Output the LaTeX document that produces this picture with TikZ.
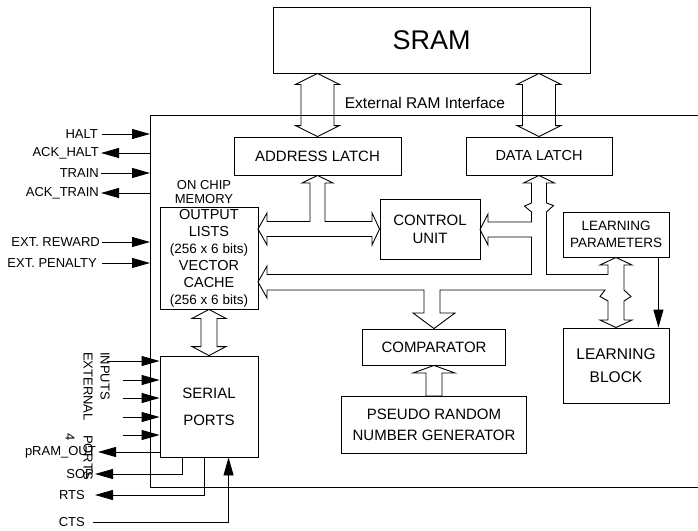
\documentclass[tikz,border=0pt]{standalone}
\usepackage{fontspec}
\setmainfont{Liberation Sans}
\usetikzlibrary{arrows.meta,calc}
\newcommand{\boxfont}{\fontsize{15}{18}\selectfont}
\newcommand{\sigfont}{\fontsize{13}{15}\selectfont}
\newcommand{\bitsfont}{\fontsize{13.5}{17}\selectfont}
\tikzset{
  blk/.style={draw,line width=0.9pt,inner sep=0pt,align=center,font=\boxfont},
  lbl/.style={font=\sigfont,inner sep=2pt},
  sig/.style={line width=0.9pt,-{Triangle[length=18pt,width=10pt]}},
  bus/.style={line width=0.9pt,line join=miter},
}
%% double headed hollow bus between two tips
\newcommand{\dbus}[5]{%
  \draw[bus] (#1) -- ($(#1)+(#4,#5)$) -- ($(#1)+(#3,#5)$) -- ($(#2)+(#3,-#5)$)
    -- ($(#2)+(#4,-#5)$) -- (#2) -- ($(#2)+(-#4,-#5)$) -- ($(#2)+(-#3,-#5)$)
    -- ($(#1)+(-#3,#5)$) -- ($(#1)+(-#4,#5)$) -- cycle;}
\begin{document}
\begin{tikzpicture}[x=1pt,y=-1pt]
  \useasboundingbox (0,0) rectangle (698,530);
  %% Chip outline
  \coordinate (chipNE) at (698,115);
  \coordinate (chipNW) at (150,115);
  \coordinate (chipSW) at (150,487);
  \coordinate (chipSE) at (698,487);
  \draw[line width=0.9pt] (chipNE) -- (chipNW) -- (chipSW) -- (chipSE);
  \node[font=\fontsize{15.5}{18}\selectfont] (extram) at (425,103) {External RAM Interface};
  %% Blocks
  \node[blk,minimum width=317pt,minimum height=66pt,font=\fontsize{27}{30}\selectfont] (sram) at (431.5,40) {SRAM};
  \node[blk,minimum width=167pt,minimum height=38pt] (addr) at (317.5,156) {ADDRESS LATCH};
  \node[blk,minimum width=146pt,minimum height=38pt,font=\fontsize{14.5}{17}\selectfont] (data) at (539,156) {DATA LATCH};
  \node[blk,minimum width=100pt,minimum height=60pt] (ctrl) at (430,229) {CONTROL\\UNIT};
  \node[blk,minimum width=106pt,minimum height=45pt,font=\fontsize{13.5}{16.5}\selectfont] (lpar) at (616,234.5) {LEARNING\\PARAMETERS};
  \node[blk,minimum width=106pt,minimum height=75pt,font=\fontsize{15.5}{23}\selectfont] (lblk) at (616,365.5) {LEARNING\\BLOCK};
  \node[blk,minimum width=143pt,minimum height=36pt] (comp) at (434,347) {COMPARATOR};
  \node[blk,minimum width=185pt,minimum height=57pt,font=\fontsize{15}{21}\selectfont] (prng) at (434,424.5) {PSEUDO RANDOM\\NUMBER GENERATOR};
  \node[blk,minimum width=98pt,minimum height=102pt,font=\fontsize{14.5}{17}\selectfont] (mem) at (209,258)
    {OUTPUT\\LISTS\\{\bitsfont(256 x 6 bits)}\\VECTOR\\CACHE\\{\bitsfont(256 x 6 bits)}};
  \node[blk,minimum width=98pt,minimum height=101pt,font=\fontsize{15}{27}\selectfont] (serial) at (209,406.5) {SERIAL\\PORTS};
  \node[lbl] (onchip) at (204,185) {ON CHIP};
  \node[lbl] (memlbl) at (204,199) {MEMORY};
  %% Buses
  \coordinate (sramA) at (sram.south -| addr.north);
  \coordinate (sramD) at (sram.south -| data.north);
  \dbus{sramA}{addr.north}{16.5}{22}{11}
  \dbus{sramD}{data.north}{16.5}{22}{11}
  \dbus{mem.south}{serial.north}{8}{17}{9}
  \draw[bus] (addr.south) -- (333,183) -- (325,183) -- (325,221.5) -- (372,221.5) -- (372,213)
    -- (ctrl.west) -- (372,245) -- (372,236.5) -- (267,236.5) -- (267,245) -- (258,229)
    -- (267,213) -- (267,221.5) -- (310,221.5) -- (310,183) -- (302,183) -- cycle;
  \draw[bus] (data.south) -- (554.5,183) -- (546.5,183) -- (546.5,203) -- (553.5,205.5) -- (546.5,212)
    -- (546.5,274.5) -- (608,274.5) -- (608,265) -- (600,265) -- (lpar.south) -- (632,265) -- (624,265)
    -- (624,290) -- (631,296.5) -- (624,301) -- (624,320) -- (632,320) -- (lblk.north) -- (600,320)
    -- (608,320) -- (608,301) -- (600,296.5) -- (605,290) -- (440,290) -- (440,313) -- (455,313)
    -- (comp.north) -- (413,313) -- (424,313) -- (424,290) -- (267,290) -- (267,298) -- (258,282)
    -- (267,266) -- (267,274.5) -- (531.5,274.5) -- (531.5,237) -- (488,237) -- (488,245)
    -- (480,229.5) -- (488,214) -- (488,222) -- (531.5,222) -- (531.5,212) -- (524.5,206)
    -- (531.5,203) -- (531.5,183) -- (523.5,183) -- cycle;
  \draw[bus] (comp.south) -- (455,373) -- (442,373) -- (442,396) -- (426,396) -- (426,373) -- (413,373) -- cycle;
  \coordinate (lparout) at ($(lpar.south east)+(-11,0)$);
  \draw[sig] (lparout) -- (lparout |- lblk.north);
  %% Control signals
  \node[lbl,anchor=east] (halt) at (100,134) {HALT};
  \node[lbl,anchor=east] (ackhalt) at (101,153) {ACK\_HALT};
  \node[lbl,anchor=east] (train) at (101,173) {TRAIN};
  \node[lbl,anchor=east] (acktrain) at (101,193) {ACK\_TRAIN};
  \node[lbl,anchor=east] (reward) at (102,242) {EXT. REWARD};
  \node[lbl,anchor=east] (penalty) at (99,263) {EXT. PENALTY};
  \draw[sig] ($(halt.east)+(2,0)$) -- (halt.east -| chipNW);
  \draw[sig] (ackhalt.east -| chipNW) -- (ackhalt.east);
  \draw[sig] (train.east) -- (train.east -| chipNW);
  \draw[sig] (acktrain.east -| chipNW) -- (acktrain.east);
  \draw[sig] (reward.east) -- (reward.east -| chipNW);
  \draw[sig] ($(penalty.east)+(3,0)$) -- (penalty.east -| chipNW);
  %% Serial inputs
  \node[lbl,rotate=-90,anchor=west,inner sep=0pt] (extlbl) at (88,352) {EXTERNAL};
  \node[lbl,rotate=-90,anchor=west,inner sep=0pt] (inlbl) at (105,352) {INPUTS};
  \node[lbl,rotate=-90,anchor=west,inner sep=0pt] (fourlbl) at (70,433) {4};
  \node[lbl,rotate=-90,anchor=west,inner sep=0pt] (portslbl) at (88,435) {PORTS};
  \foreach \y/\xs [count=\i] in {361/107,380/123,398/123,417/123,435/123}{
    \coordinate (in\i) at (\xs,\y);
    \draw[sig] (in\i) -- (in\i -| serial.west);
  }
  %% Serial outputs
  \node[lbl,anchor=east] (pramout) at (98,452) {pRAM\_OUT};
  \draw[sig] (serial.west |- pramout.east) -- (pramout.east);
  \coordinate (sopend) at (95,474);
  \coordinate (rtsend) at (95,495);
  \coordinate (ctsbeg) at (93,522);
  \node[lbl,anchor=east] (sop) at (96,474) {SOP};
  \node[lbl,anchor=east] (rts) at (87,495) {RTS};
  \node[lbl,anchor=east] (cts) at (87,522) {CTS};
  \coordinate (sopout) at ($(serial.south west)+(23,0)$);
  \coordinate (rtsout) at ($(serial.south west)+(45,0)$);
  \coordinate (ctsin) at ($(serial.south west)+(69,0)$);
  \draw[sig] (sopout) |- (sopend);
  \draw[sig] (rtsout) |- (rtsend);
  \draw[sig] (ctsbeg) -| (ctsin);
\end{tikzpicture}
\end{document}
